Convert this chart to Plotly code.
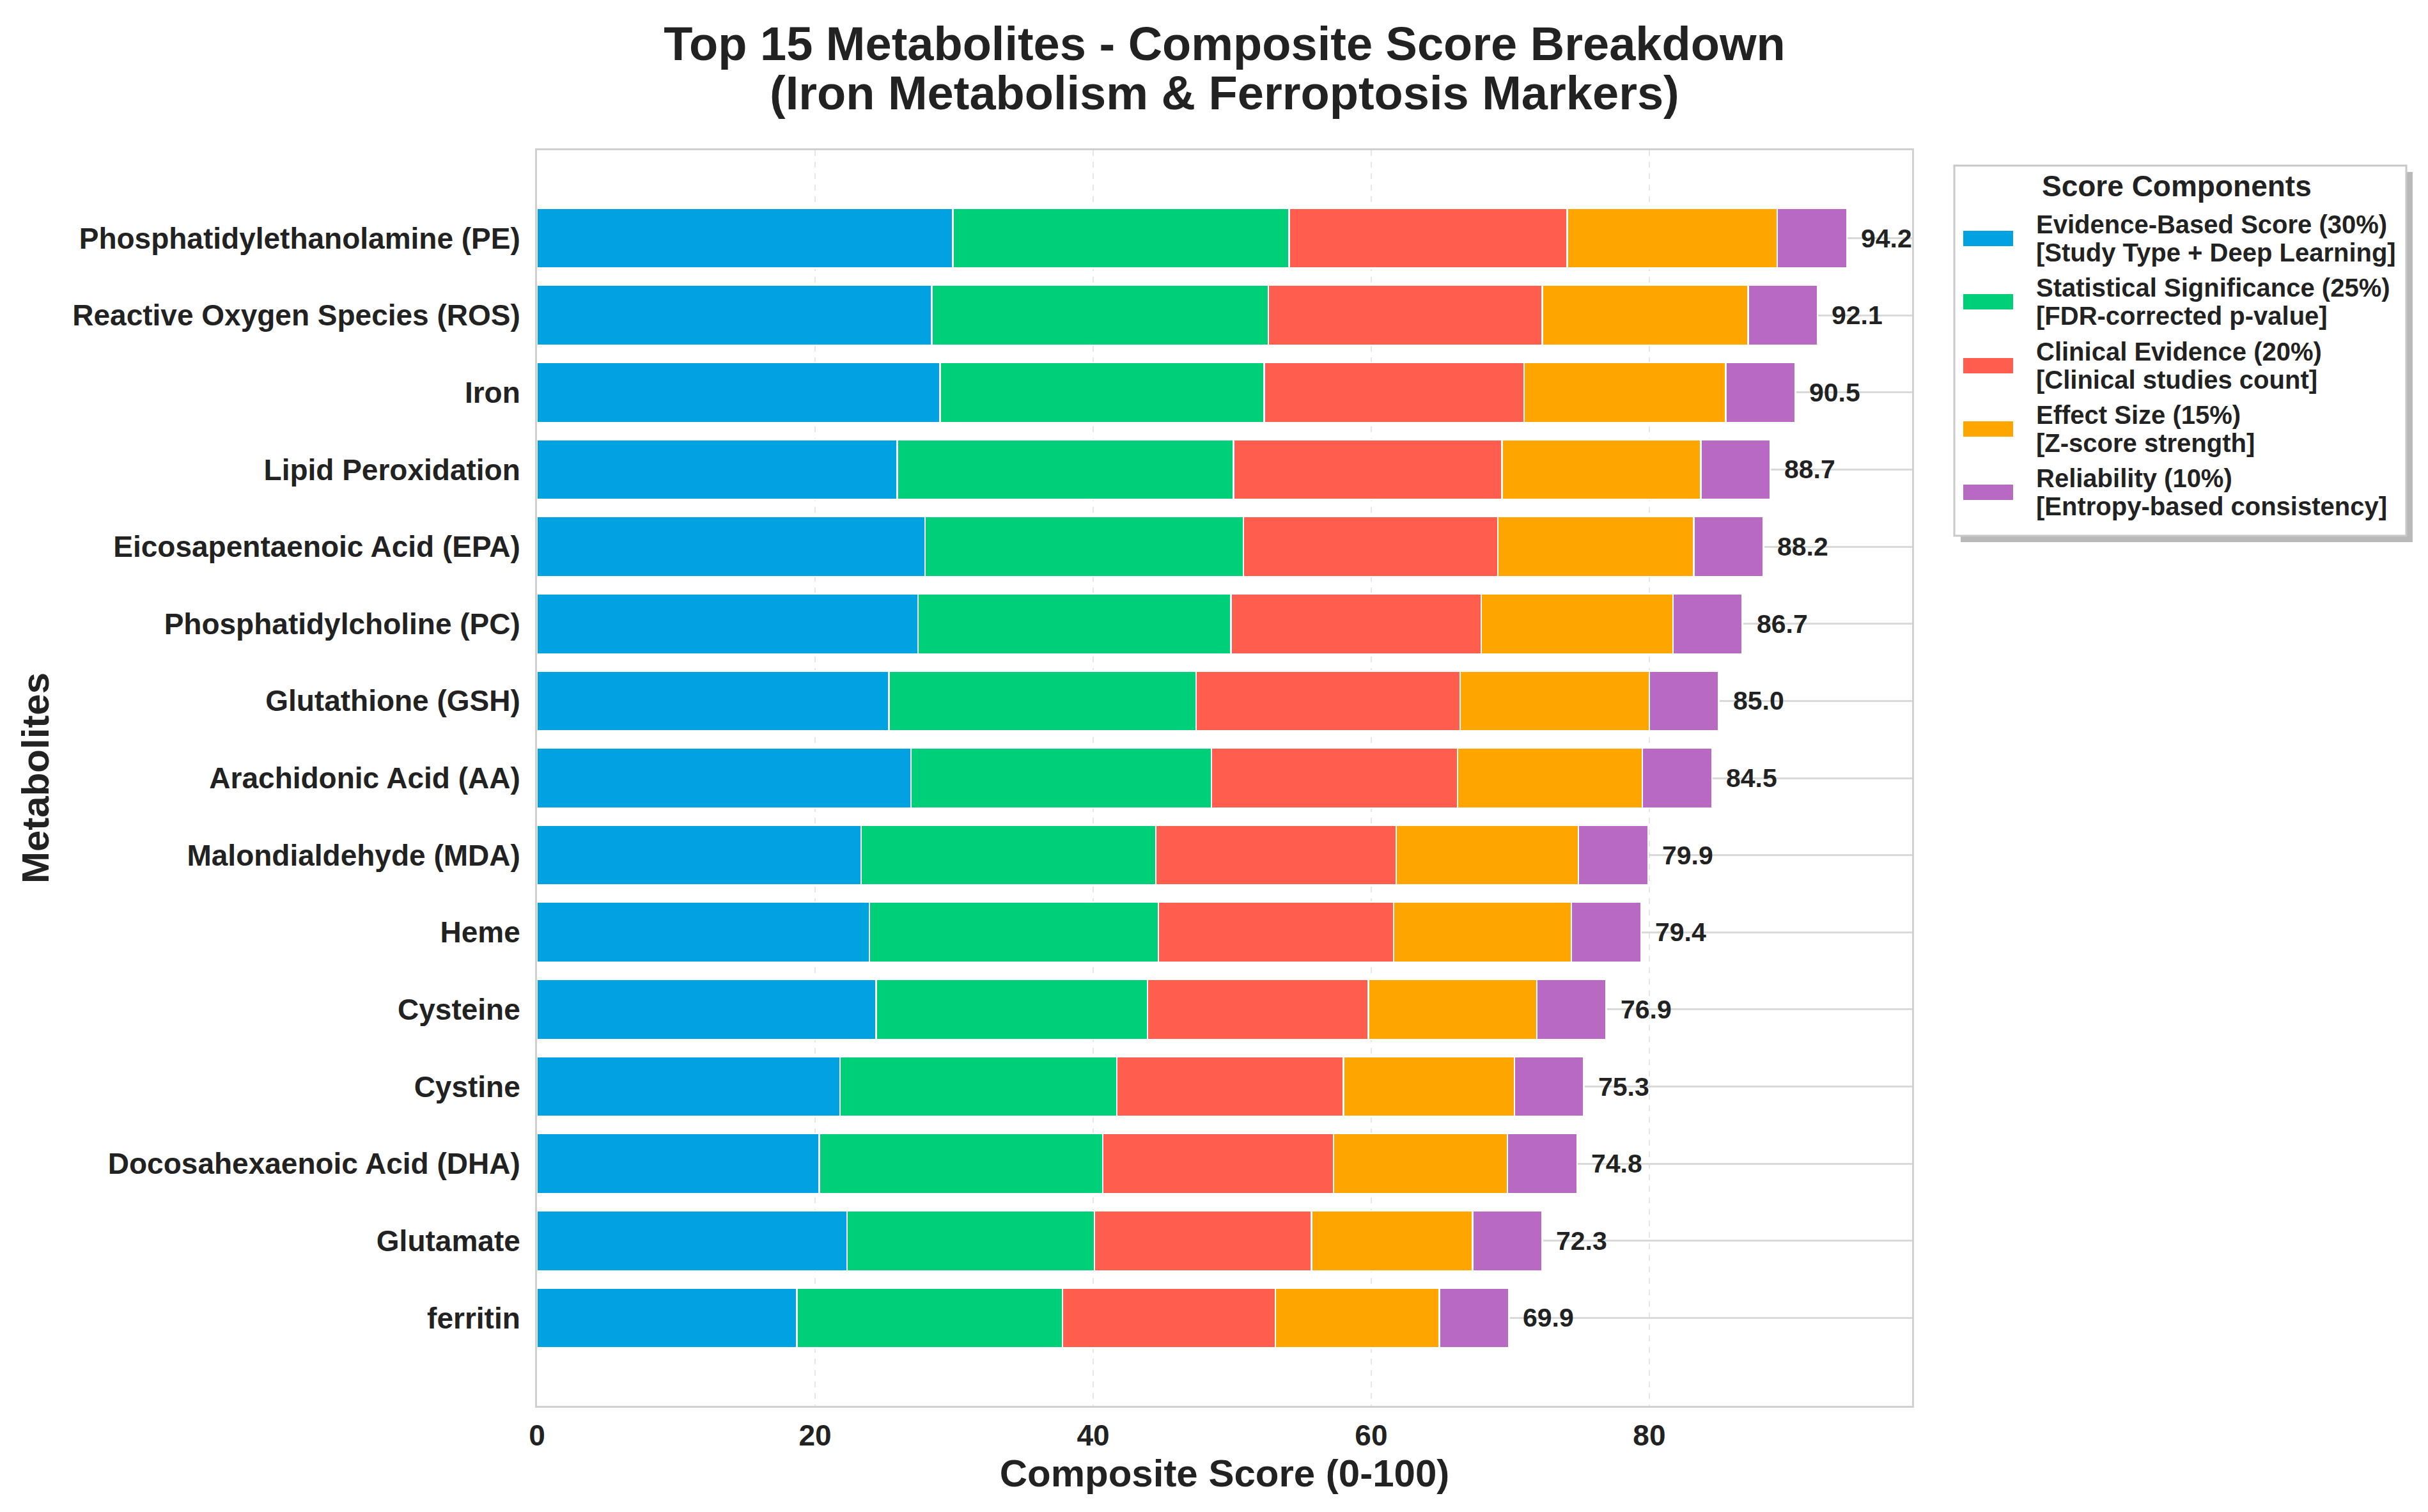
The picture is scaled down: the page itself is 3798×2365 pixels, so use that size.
import plotly.graph_objects as go

metabolites = [
    "Phosphatidylethanolamine (PE)",
    "Reactive Oxygen Species (ROS)",
    "Iron",
    "Lipid Peroxidation",
    "Eicosapentaenoic Acid (EPA)",
    "Phosphatidylcholine (PC)",
    "Glutathione (GSH)",
    "Arachidonic Acid (AA)",
    "Malondialdehyde (MDA)",
    "Heme",
    "Cysteine",
    "Cystine",
    "Docosahexaenoic Acid (DHA)",
    "Glutamate",
    "ferritin",
]

evidence = [29.9, 28.4, 29.0, 25.9, 27.9, 27.4, 25.3, 26.9, 23.3, 23.9, 24.4, 21.8, 20.3, 22.3, 18.7]
statistical = [24.2, 24.2, 23.3, 24.2, 22.9, 22.5, 22.1, 21.6, 21.2, 20.8, 19.5, 19.9, 20.4, 17.8, 19.1]
clinical = [20.0, 19.7, 18.7, 19.3, 18.3, 18.0, 19.0, 17.7, 17.3, 16.9, 15.9, 16.3, 16.6, 15.6, 15.3]
effect = [15.1, 14.8, 14.5, 14.3, 14.1, 13.8, 13.6, 13.3, 13.1, 12.8, 12.1, 12.3, 12.5, 11.6, 11.8]
reliability = [5.0, 5.0, 5.0, 5.0, 5.0, 5.0, 5.0, 5.0, 5.0, 5.0, 5.0, 5.0, 5.0, 5.0, 5.0]

component_lines = [
    ("Evidence-Based Score (30%)", "[Study Type + Deep Learning]"),
    ("Statistical Significance (25%)", "[FDR-corrected p-value]"),
    ("Clinical Evidence (20%)", "[Clinical studies count]"),
    ("Effect Size (15%)", "[Z-score strength]"),
    ("Reliability (10%)", "[Entropy-based consistency]"),
]
component_colors = ["#00A3E0", "#00CF79", "#FF5E4E", "#FFA500", "#B86AC2"]
series = [evidence, statistical, clinical, effect, reliability]
x_ticks = [0, 20, 40, 60, 80]
title_lines = ["Top 15 Metabolites - Composite Score Breakdown",
               "(Iron Metabolism & Ferroptosis Markers)"]

# page body has an 8px margin; work in reference pixel coordinates
OFF = 8
W, H = 3798 - 2 * OFF, 2365 - 2 * OFF
PL, PR, PT, PB = 840 - OFF, 2991 - OFF, 235 - OFF, 2199 - OFF
FONT = "Liberation Sans, Arial, sans-serif"
TXT = "#222222"


def px(xr):
    return (xr - OFF - PL) / (PR - PL)


def py(yr):
    return (PB - (yr - OFF)) / (PB - PT)


fig = go.Figure()
for (l1, l2), color, vals in zip(component_lines, component_colors, series):
    fig.add_trace(go.Bar(
        y=metabolites, x=vals, orientation="h", name=f"{l1} {l2}",
        marker=dict(color=color, line=dict(color="white", width=2.5)),
        showlegend=False,
    ))

totals = [round(sum(v), 1) for v in zip(*series)]
annotations = []
for m, t in zip(metabolites, totals):
    annotations.append(dict(
        x=t, y=m, xref="x", yref="y", text=f"{t:.1f}", showarrow=False,
        xanchor="left", yanchor="middle", xshift=20,
        font=dict(family=FONT, size=41, color=TXT, weight="bold"),
    ))

# second title line
annotations.append(dict(
    x=px(1915), y=py(145), xref="paper", yref="paper",
    yanchor="middle", xanchor="center", showarrow=False, text=title_lines[1],
    font=dict(family=FONT, size=74, color=TXT, weight="bold"),
))

shapes = []
# legend shadow and box
shapes.append(dict(type="rect", xref="paper", yref="paper",
                   x0=px(3067), x1=px(3774), y0=py(848), y1=py(269),
                   fillcolor="#8a8a8a", line=dict(width=0), layer="above", opacity=0.6))
shapes.append(dict(type="rect", xref="paper", yref="paper",
                   x0=px(3057), x1=px(3764), y0=py(838), y1=py(259),
                   fillcolor="white", line=dict(color="#c8c8c8", width=3), layer="above"))
annotations.append(dict(
    x=px(3405), y=py(291), xref="paper", yref="paper", text="Score Components",
    showarrow=False, xanchor="center", yanchor="middle",
    font=dict(family=FONT, size=46, color=TXT, weight="bold"),
))
item_y = [373, 472, 572, 671, 770]
for (l1, l2), color, yc in zip(component_lines, component_colors, item_y):
    shapes.append(dict(type="rect", xref="paper", yref="paper",
                       x0=px(3071), x1=px(3149), y0=py(yc + 12), y1=py(yc - 12),
                       fillcolor=color, line=dict(width=0), layer="above"))
    for txt, dy in ((l1, -22), (l2, 22)):
        annotations.append(dict(
            x=px(3183), y=py(yc + dy), xref="paper", yref="paper", text=txt,
            showarrow=False, xanchor="left", yanchor="middle", align="left",
            font=dict(family=FONT, size=40, color=TXT, weight="bold"),
        ))

fig.update_layout(
    width=W, height=H,
    barmode="stack", bargap=0.22,
    paper_bgcolor="white", plot_bgcolor="white",
    margin=dict(l=PL, r=W - PR, t=PT, b=H - PB),
    title=dict(
        text=title_lines[0],
        x=0.5, xref="paper", xanchor="center",
        y=1 - (68 - OFF) / H, yref="container", yanchor="middle",
        font=dict(family=FONT, size=74, color=TXT, weight="bold"),
    ),
    xaxis=dict(
        range=[0, 98.9], tickvals=x_ticks, ticks="",
        showgrid=True, gridcolor="#e6e6e6", griddash="dash", gridwidth=2,
        zeroline=False, showline=True, mirror=True, linecolor="#d0d0d0", linewidth=3,
        tickfont=dict(family=FONT, size=46, color=TXT, weight="bold"),
        ticklabelstandoff=4,
        title=dict(text="Composite Score (0-100)", standoff=6,
                   font=dict(family=FONT, size=60, color=TXT, weight="bold")),
    ),
    yaxis=dict(
        categoryorder="array", categoryarray=metabolites,
        range=[len(metabolites) - 1 + 1.14, -1.14], ticks="",
        showgrid=True, gridcolor="#d9d9d9", gridwidth=3,
        zeroline=False, showline=True, mirror=True, linecolor="#d0d0d0", linewidth=3,
        tickfont=dict(family=FONT, size=46, color=TXT, weight="bold"),
        ticklabelstandoff=14,
        title=dict(text="Metabolites", standoff=18,
                   font=dict(family=FONT, size=60, color=TXT, weight="bold")),
    ),
    shapes=shapes,
    annotations=annotations,
)

fig.write_html("out.html")
